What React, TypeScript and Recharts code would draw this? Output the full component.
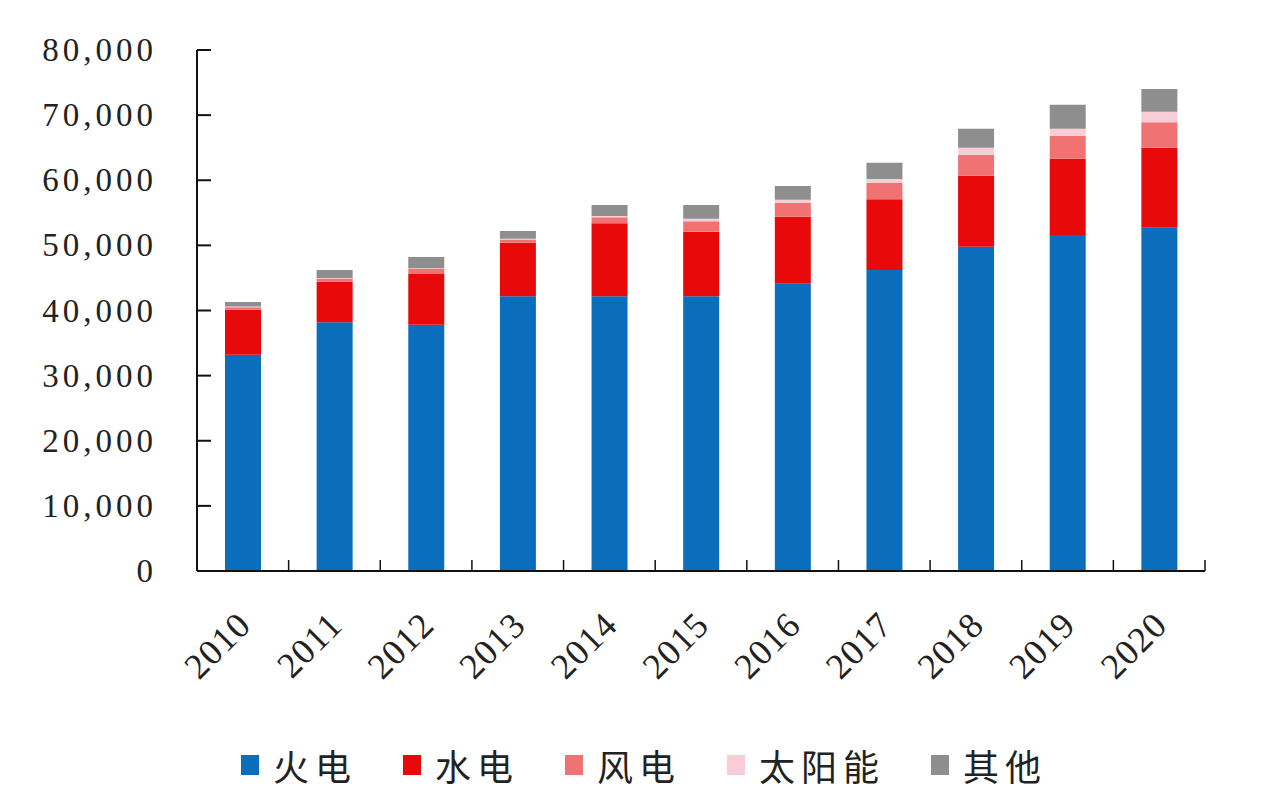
import { BarChart, Bar, XAxis, YAxis, Legend } from 'recharts';

const YEARS = ['2010', '2011', '2012', '2013', '2014', '2015', '2016', '2017', '2018', '2019', '2020'];
const THERMAL = [33200, 38200, 37800, 42200, 42200, 42200, 44100, 46200, 49800, 51600, 52700];
const HYDRO = [6900, 6200, 7800, 8200, 11200, 9900, 10300, 10900, 10900, 11700, 12300];
const WIND = [400, 500, 800, 500, 900, 1600, 2100, 2500, 3200, 3500, 3900];
const SOLAR = [100, 100, 100, 100, 200, 400, 500, 600, 1100, 1100, 1600];
const OTHER = [700, 1200, 1700, 1200, 1700, 2100, 2100, 2500, 2900, 3700, 3500];
const Y_TICKS = [0, 10000, 20000, 30000, 40000, 50000, 60000, 70000, 80000];

const SERIES = [
  { key: 'thermal', name: '火电', color: '#0a6ebd', values: THERMAL },
  { key: 'hydro', name: '水电', color: '#e80a0a', values: HYDRO },
  { key: 'wind', name: '风电', color: '#f07272', values: WIND },
  { key: 'solar', name: '太阳能', color: '#f8cdd5', values: SOLAR },
  { key: 'other', name: '其他', color: '#8e8e8e', values: OTHER },
];

const data = YEARS.map((year, i) => {
  const row: Record<string, string | number> = { year };
  SERIES.forEach((s) => {
    row[s.key] = s.values[i];
  });
  return row;
});

const SERIF = '"Liberation Serif", "Times New Roman", serif';
const BAND = 1008 / YEARS.length;

function YTick(props: any) {
  const { x, y, payload } = props;
  return (
    <g>
      {payload.value > 0 && <line x1={x} y1={y} x2={x + 14} y2={y} stroke="#111" strokeWidth={2} />}
      <text
        x={x - 40}
        y={y}
        dy={11}
        textAnchor="end"
        fontFamily={SERIF}
        fontSize={33}
        letterSpacing={4}
        fill="#222"
      >
        {Number(payload.value).toLocaleString('en-US')}
      </text>
    </g>
  );
}

function XTick(props: any) {
  const { x, y, payload, index } = props;
  const left = x - BAND / 2;
  const right = x + BAND / 2;
  const tx = x + 10;
  const ty = y + 56;
  return (
    <g>
      <line x1={left} y1={y} x2={left} y2={y - 11} stroke="#111" strokeWidth={1.5} />
      {index === YEARS.length - 1 && (
        <line x1={right} y1={y} x2={right} y2={y - 11} stroke="#111" strokeWidth={1.5} />
      )}
      <text
        x={tx}
        y={ty}
        textAnchor="end"
        transform={`rotate(-45 ${tx} ${ty})`}
        fontFamily={SERIF}
        fontSize={36}
        letterSpacing={1}
        fill="#222"
      >
        {payload.value}
      </text>
    </g>
  );
}

// legend drawn from SERIES so the order stays as in the source
function LegendBox() {
  return (
    <div
      style={{
        display: 'flex',
        justifyContent: 'center',
        alignItems: 'center',
        height: 50,
        fontFamily: '"Noto Sans CJK SC", sans-serif',
        fontSize: 36,
        color: '#222',
      }}
    >
      {SERIES.map((s, i) => (
        <div key={s.key} style={{ display: 'flex', alignItems: 'center', marginLeft: i ? 46 : 0 }}>
          <span style={{ width: 18, height: 20, background: s.color, marginRight: 14 }} />
          <span style={{ letterSpacing: 6 }}>{s.name}</span>
        </div>
      ))}
    </div>
  );
}

export default function App() {
  return (
    <BarChart
      width={1272}
      height={800}
      data={data}
      margin={{ top: 42, right: 75, left: 0, bottom: 18 }}
      barSize={36}
    >
      <XAxis
        dataKey="year"
        height={169}
        axisLine={{ stroke: '#111', strokeWidth: 2 }}
        tickLine={false}
        tickSize={0}
        tickMargin={0}
        interval={0}
        tick={<XTick />}
      />
      <YAxis
        width={189}
        domain={[0, 80000]}
        ticks={Y_TICKS}
        interval={0}
        axisLine={{ stroke: '#111', strokeWidth: 2 }}
        tickLine={false}
        tickSize={0}
        tickMargin={0}
        tick={<YTick />}
      />
      <Legend
        verticalAlign="bottom"
        wrapperStyle={{ left: 0, width: 1272 }}
        content={<LegendBox />}
      />
      {SERIES.map((s) => (
        <Bar
          key={s.key}
          dataKey={s.key}
          name={s.name}
          stackId="a"
          fill={s.color}
          isAnimationActive={false}
        />
      ))}
    </BarChart>
  );
}
